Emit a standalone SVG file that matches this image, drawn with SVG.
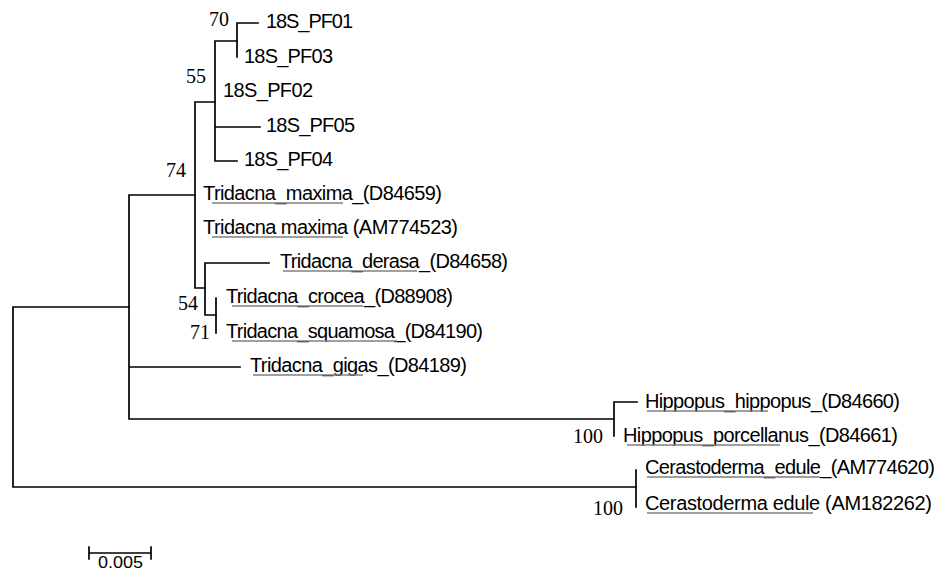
<svg xmlns="http://www.w3.org/2000/svg" width="938" height="571" viewBox="0 0 938 571">
<style>
.b{stroke:#000;stroke-width:1.7;fill:none;stroke-linecap:square}
.t{font-family:"Liberation Sans",Arial,sans-serif;font-size:20px;fill:#000}
.n{font-family:"Liberation Serif","Times New Roman",serif;font-size:20px;fill:#000}
.u{stroke:#808080;stroke-width:1.3}
</style>
<rect width="938" height="571" fill="#fff"/>
<g id="connectors">
<path class="b" d="M129,307H13V487H636"/>
<path class="b" d="M195,195H129V419H614M129,367H240"/>
<path class="b" d="M215,102H195V288H205"/>
<path class="b" d="M237,41H215V161H237M215,127H260"/>
<path class="b" d="M258,23H237V57"/>
<path class="b" d="M269,263H205V315H216"/>
<path class="b" d="M216,298V333"/>
<path class="b" d="M637,402H614V436"/>
<path class="b" d="M636,470V507"/>
</g>
<g id="support">
<text class="n" x="209" y="26">70</text>
<text class="n" x="186" y="83">55</text>
<text class="n" x="166" y="177">74</text>
<text class="n" x="178" y="310">54</text>
<text class="n" x="190" y="339">71</text>
<text class="n" x="573" y="443">100</text>
<text class="n" x="593" y="515">100</text>
</g>
<g id="PF01"><text class="t" x="266" y="28" textLength="87">18S_PF01</text></g>
<g id="PF03"><text class="t" x="244" y="63" textLength="89">18S_PF03</text></g>
<g id="PF02"><text class="t" x="223" y="97" textLength="90">18S_PF02</text></g>
<g id="PF05"><text class="t" x="266" y="132" textLength="89">18S_PF05</text></g>
<g id="PF04"><text class="t" x="244" y="166" textLength="89">18S_PF04</text></g>
<g id="Tmax1"><text class="t" x="203" y="200" textLength="239">Tridacna_maxima_(D84659)</text><line class="u" x1="212" y1="203" x2="343" y2="203"/></g>
<g id="Tmax2"><text class="t" x="203" y="234" textLength="255">Tridacna maxima (AM774523)</text><line class="u" x1="212" y1="237" x2="343" y2="237"/></g>
<g id="Tder"><text class="t" x="280" y="268" textLength="228">Tridacna_derasa_(D84658)</text><line class="u" x1="283" y1="271" x2="417" y2="271"/></g>
<g id="Tcro"><text class="t" x="226" y="303" textLength="227">Tridacna_crocea_(D88908)</text><line class="u" x1="232" y1="306" x2="363" y2="306"/></g>
<g id="Tsqu"><text class="t" x="226" y="338" textLength="257">Tridacna_squamosa_(D84190)</text><line class="u" x1="232" y1="341" x2="397" y2="341"/></g>
<g id="Tgig"><text class="t" x="250" y="372" textLength="217">Tridacna_gigas_(D84189)</text><line class="u" x1="253" y1="375" x2="363" y2="375"/></g>
<g id="Hhip"><text class="t" x="645" y="408" textLength="255">Hippopus_hippopus_(D84660)</text><line class="u" x1="647" y1="411" x2="768" y2="411"/></g>
<g id="Hpor"><text class="t" x="623" y="442" textLength="275">Hippopus_porcellanus_(D84661)</text><line class="u" x1="627" y1="445" x2="780" y2="445"/></g>
<g id="Ced1"><text class="t" x="645" y="474" textLength="290">Cerastoderma_edule_(AM774620)</text><line class="u" x1="647" y1="477" x2="820" y2="477"/></g>
<g id="Ced2"><text class="t" x="645" y="510" textLength="287">Cerastoderma edule (AM182262)</text><line class="u" x1="647" y1="513" x2="813" y2="513"/></g>
<g id="scale">
<path class="b" d="M89,547V559M89,553H151M151,547V559"/>
<text x="98" y="568" font-family="Liberation Sans,sans-serif" font-size="17" textLength="45" lengthAdjust="spacingAndGlyphs">0.005</text>
</g>
</svg>
